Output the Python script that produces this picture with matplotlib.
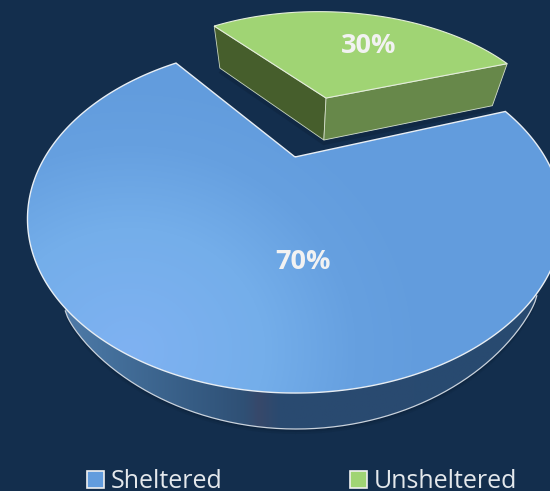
import numpy as np
import matplotlib
matplotlib.use("Agg")
import matplotlib.pyplot as plt
from matplotlib.patches import Polygon, Patch
from matplotlib.colors import LinearSegmentedColormap

categories = ["Sheltered", "Unsheltered"]
values = [70, 30]
labels = ["70%", "30%"]

BG = "#132E4D"
W, H = 550, 491
START = 19.6      # degrees, counter-clockwise start of the Unsheltered slice
CX, CY, A, B, K = 295, 157, 250, 152, 0.356   # projection of the pie plane


def project(u, v):
    w = 1 + K * v
    return CX + A * u / w, CY - B * v / w


def sector(theta0, theta1, radius=1.0, offset=(0, 0)):
    t = np.radians(np.linspace(theta0, theta1, 360))
    u = np.r_[offset[0], radius * np.cos(t) + offset[0]]
    v = np.r_[offset[1], radius * np.sin(t) + offset[1]]
    return project(u, v)


def extrude(x, y, h, s):
    return CX + (x - CX) * s, y + h


fig = plt.figure(figsize=(5.5, 4.91), dpi=100, facecolor=BG)
ax = fig.add_axes([0, 0, 1, 1])
ax.set_xlim(0, W)
ax.set_ylim(H, 0)
ax.axis("off")

sweep_un = values[1] / sum(values) * 360

# ---- main (Sheltered) slice
xs, ys = sector(START + sweep_un, START + 360)

# the visible wall: thickness fades out towards the two points where it meets the rim
front = (ys > 215) & (xs > 65) & (xs < 537)
frac = (xs[front] - 65) / (537 - 65)
wx, wy = xs[front], ys[front]
wby = wy + 36 * np.sin(np.pi * frac) ** 0.42

# soft shadow below the wall
for dy, alpha in [(5, .18), (3, .25), (1.5, .3)]:
    ax.add_patch(Polygon(np.c_[wx, wby + dy], closed=True, fc="#0B1F36", ec="none", alpha=alpha, zorder=1))

wall_cmap = LinearSegmentedColormap.from_list(
    "wall", [(0, "#557FAD"), (.12, "#46729E"), (.30, "#365C84"), (.40, "#2F5075"),
             (.43, "#37486A"), (.47, "#2A4A70"), (1, "#284A70")])
gx = np.linspace(40, 550, 256).reshape(1, -1)
wall_clip = Polygon(np.r_[np.c_[wx, wy], np.c_[wx, wby][::-1]], closed=True,
                    transform=ax.transData, fc="none", ec="none")
ax.add_patch(wall_clip)
im = ax.imshow(gx, extent=[40, 550, 440, 200], cmap=wall_cmap, aspect="auto", zorder=2)
im.set_clip_path(wall_clip)
ax.set_xlim(0, W)
ax.set_ylim(H, 0)
ax.plot(wx, wby, color="#C9D2DC", lw=0.9, zorder=3)

# top face with a soft gradient brightest at lower left
yy, xx = np.mgrid[0:H, 0:W]
d = np.clip(np.hypot(xx - 130, (yy - 350) * 1.1) / 300, 0, 1)
top_cmap = LinearSegmentedColormap.from_list(
    "top", [(0, "#7FB2F2"), (.45, "#74AEEA"), (.75, "#66A0E0"), (1, "#629CDD")])
top_patch = Polygon(np.c_[xs, ys], closed=True, fc="none", ec="none", transform=ax.transData)
ax.add_patch(top_patch)
im2 = ax.imshow(d, extent=[0, W, H, 0], cmap=top_cmap, vmin=0, vmax=1, aspect="auto", zorder=4)
im2.set_clip_path(top_patch)
ax.set_xlim(0, W)
ax.set_ylim(H, 0)
ax.add_patch(Polygon(np.c_[xs, ys], closed=True, fc="none", ec="#E8EEF4", lw=1.0, zorder=5))

# ---- exploded (Unsheltered) slice
off = (0.144, 0.45)
sx, sy = sector(START, START + sweep_un, radius=1.0, offset=off)
bsx, bsy = extrude(sx, sy, 42, 0.93)

# shadow under the slice
ax.add_patch(Polygon(np.c_[bsx[[1, 0, -1]], bsy[[1, 0, -1]] + 3], closed=False, fc="none",
                     ec="#0B1F36", lw=3, alpha=.35, zorder=6))
# left wall (apex -> far-left corner)
ax.add_patch(Polygon([(sx[0], sy[0]), (sx[-1], sy[-1]), (bsx[-1], bsy[-1]), (bsx[0], bsy[0])],
                     closed=True, fc="#465E2C", ec="#C8D4BC", lw=0.6, zorder=7))
# front wall (apex -> right corner)
ax.add_patch(Polygon([(sx[0], sy[0]), (sx[1], sy[1]), (bsx[1], bsy[1]), (bsx[0], bsy[0])],
                     closed=True, fc="#67884A", ec="#D5DFCB", lw=0.6, zorder=7))
ax.add_patch(Polygon(np.c_[sx, sy], closed=True, fc="#A0D474", ec="#E4EEDA", lw=0.8, zorder=8))

# ---- labels
ax.text(303, 262, labels[0], color="#F2F2F2", fontsize=19.5, fontweight="bold",
        family="Open Sans", ha="center", va="center", zorder=10)
ax.text(369, 46, labels[1], color="#F2F2F2", fontsize=19.5, fontweight="bold",
        family="Open Sans", ha="center", va="center", zorder=10)

# ---- legend
handles = [Patch(fc="#629CDD", ec="#F0F0F0", lw=1.2), Patch(fc="#A0D474", ec="#F0F0F0", lw=1.2)]
leg = ax.legend(handles, categories, ncol=2, loc="lower left", bbox_to_anchor=(87, 494),
                bbox_transform=ax.transData, frameon=False,
                prop={"family": "Open Sans", "size": 18},
                labelcolor="#E4E8EC", handlelength=0.68, handleheight=0.68,
                handletextpad=0.28, columnspacing=5.1, borderpad=0, borderaxespad=0)
for t in leg.get_texts():
    t.set_color("#E4E8EC")

fig.savefig("out.png", dpi=100, facecolor=BG)
